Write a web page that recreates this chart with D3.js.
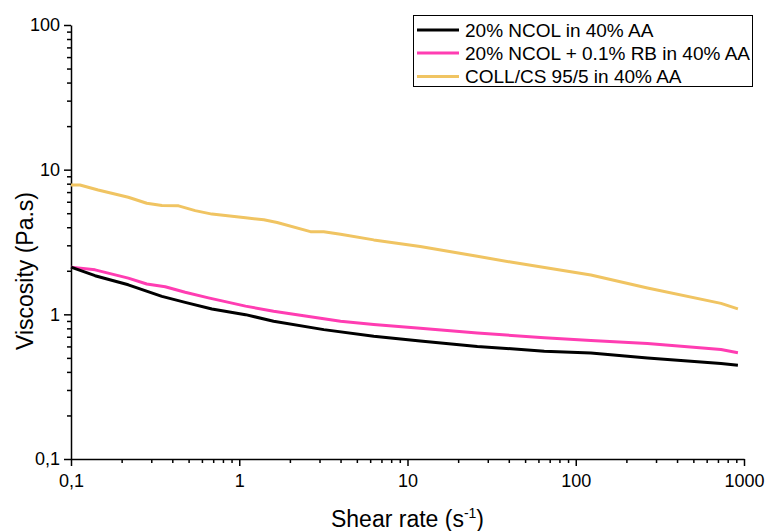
<!DOCTYPE html>
<html>
<head>
<meta charset="utf-8">
<script src="https://cdn.jsdelivr.net/npm/d3@7/dist/d3.min.js"></script>
<style>
  html, body { margin: 0; padding: 0; background: #fff; }
  svg { display: block; font-family: "Liberation Sans", Arial, sans-serif; }
</style>
</head>
<body>
<svg id="chart" width="768" height="531"></svg>
<script>
// Shear rate (1/s) and viscosity (Pa.s) for each sample
const seriesNames = ["20% NCOL in 40% AA", "20% NCOL + 0.1% RB in 40% AA", "COLL/CS 95/5 in 40% AA"];

const ncolRate = [0.1, 0.139, 0.219, 0.347, 0.477, 0.688, 1.09, 1.60, 3.18, 6.3, 11.9, 26, 65, 123, 267, 730, 920];
const ncolVisc = [2.12, 1.85, 1.60, 1.33, 1.21, 1.09, 0.995, 0.895, 0.784, 0.705, 0.655, 0.60, 0.556, 0.54, 0.50, 0.457, 0.445];

const ncolRbRate = [0.1, 0.139, 0.219, 0.282, 0.363, 0.477, 0.656, 1.09, 1.60, 2.53, 4.0, 6.3, 11.9, 26, 65, 123, 267, 730, 920];
const ncolRbVisc = [2.12, 2.03, 1.78, 1.62, 1.55, 1.42, 1.30, 1.14, 1.05, 0.97, 0.895, 0.85, 0.80, 0.744, 0.688, 0.66, 0.628, 0.571, 0.542];

const collCsRate = [0.1, 0.113, 0.145, 0.219, 0.282, 0.347, 0.436, 0.547, 0.688, 1.09, 1.40, 1.68, 2.65, 3.18, 4.0, 6.3, 11.9, 26, 41, 123, 267, 730, 920];
const collCsVisc = [7.84, 7.84, 7.24, 6.45, 5.86, 5.65, 5.62, 5.21, 4.93, 4.65, 4.50, 4.31, 3.73, 3.72, 3.58, 3.27, 2.94, 2.52, 2.30, 1.87, 1.52, 1.19, 1.09];

const xTicks = [0.1, 1, 10, 100, 1000];
const xTickLabels = ["0,1", "1", "10", "100", "1000"];
const yTicks = [0.1, 1, 10, 100];
const yTickLabels = ["0,1", "1", "10", "100"];

const colors = ["#000000", "#ff3db2", "#f0c462"];

const series = [
  { name: seriesNames[0], rate: ncolRate, visc: ncolVisc, color: colors[0] },
  { name: seriesNames[1], rate: ncolRbRate, visc: ncolRbVisc, color: colors[1] },
  { name: seriesNames[2], rate: collCsRate, visc: collCsVisc, color: colors[2] }
];

const margin = { left: 71, top: 25, right: 24, bottom: 72 };
const W = 768, H = 531;
const svg = d3.select("#chart");

const x = d3.scaleLog().domain([0.1, 1000]).range([margin.left, W - margin.right]);
const y = d3.scaleLog().domain([0.1, 100]).range([H - margin.bottom, margin.top]);

// minor ticks: 2..9 in each decade
function minorTicks(lo, hi) {
  const out = [];
  for (let d = lo; d < hi; d *= 10) {
    for (let k = 2; k <= 9; k++) out.push(+(d * k).toPrecision(3));
  }
  return out;
}

const axisFont = 18;

// y axis
const gy = svg.append("g").attr("transform", `translate(${margin.left},0)`);
gy.call(d3.axisLeft(y).tickValues(minorTicks(0.1, 100)).tickSize(4).tickSizeOuter(0).tickFormat(""));
gy.call(g => g.select(".domain").remove());
const gyMaj = svg.append("g").attr("transform", `translate(${margin.left},0)`);
gyMaj.call(d3.axisLeft(y).tickValues(yTicks).tickSize(7).tickSizeOuter(0).tickPadding(4)
  .tickFormat((d, i) => yTickLabels[i]));

// x axis
const gx = svg.append("g").attr("transform", `translate(0,${H - margin.bottom})`);
gx.call(d3.axisBottom(x).tickValues(minorTicks(0.1, 1000)).tickSize(4).tickSizeOuter(0).tickFormat(""));
gx.call(g => g.select(".domain").remove());
const gxMaj = svg.append("g").attr("transform", `translate(0,${H - margin.bottom})`);
gxMaj.call(d3.axisBottom(x).tickValues(xTicks).tickSize(7).tickSizeOuter(0).tickPadding(8)
  .tickFormat((d, i) => xTickLabels[i]));

svg.selectAll(".tick line, .domain").attr("stroke", "#000").attr("stroke-width", 1.5);
svg.selectAll(".tick text").attr("fill", "#000").style("font-size", axisFont + "px")
  .style("font-family", "'Liberation Sans', Arial, sans-serif");

// curves
const line = d3.line().x(d => x(d[0])).y(d => y(d[1]));
// yellow first, then pink, black last
[series[2], series[1], series[0]].forEach(s => {
  const pts = s.rate.map((r, i) => [r, s.visc[i]]);
  svg.append("path")
    .attr("d", line(pts))
    .attr("fill", "none")
    .attr("stroke", s.color)
    .attr("stroke-width", 3)
    .attr("stroke-linejoin", "round");
});

// axis titles
const xt = svg.append("text")
  .attr("x", (x.range()[0] + x.range()[1]) / 2)
  .attr("y", 527)
  .attr("text-anchor", "middle")
  .style("font-size", "23px");
xt.append("tspan").text("Shear rate (s");
xt.append("tspan").text("-1").attr("dy", -9).style("font-size", "14px");
xt.append("tspan").text(")").attr("dy", 9);

svg.append("text")
  .attr("transform", `translate(33,271) rotate(-90)`)
  .attr("text-anchor", "middle")
  .style("font-size", "23px")
  .text("Viscosity (Pa.s)");

// legend
const lg = svg.append("g");
lg.append("rect")
  .attr("x", 413.5).attr("y", 15.5).attr("width", 339).attr("height", 71)
  .attr("fill", "#fff").attr("stroke", "#000").attr("stroke-width", 1);
const rowY = [30, 53, 76.5];
series.forEach((s, i) => {
  lg.append("line")
    .attr("x1", 417).attr("x2", 459)
    .attr("y1", rowY[i]).attr("y2", rowY[i])
    .attr("stroke", s.color).attr("stroke-width", 3);
  lg.append("text")
    .attr("x", 465).attr("y", rowY[i])
    .attr("dy", "0.35em")
    .style("font-size", "19px")
    .text(s.name);
});
</script>
</body>
</html>
